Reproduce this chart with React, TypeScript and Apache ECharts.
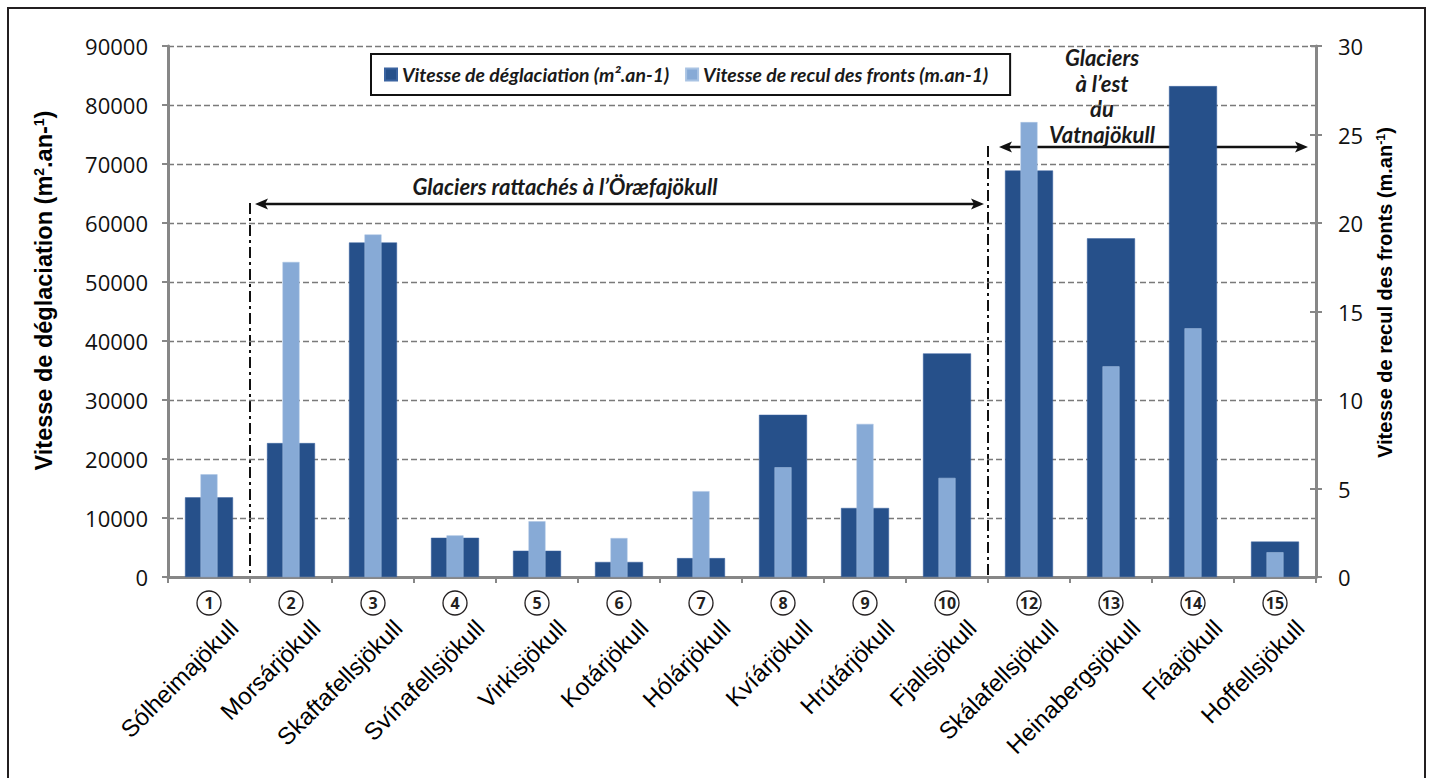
import React, { useEffect, useRef } from "react";
import * as echarts from "echarts";

// ---- data ----
const glacierNames = [
  "Sólheimajökull",
  "Morsárjökull",
  "Skaftafellsjökull",
  "Svínafellsjökull",
  "Virkisjökull",
  "Kotárjökull",
  "Hólárjökull",
  "Kvíárjökull",
  "Hrútárjökull",
  "Fjallsjökull",
  "Skálafellsjökull",
  "Heinabergsjökull",
  "Fláajökull",
  "Hoffellsjökull",
];
const glacierNumbers = ["1", "2", "3", "4", "5", "6", "7", "8", "9", "10", "12", "13", "14", "15"];
const deglaciationRate = [13500, 22700, 56700, 6650, 4450, 2550, 3200, 27500, 11700, 37900, 68900, 57400, 83200, 6000];
const frontRetreatRate = [5.8, 17.8, 19.35, 2.35, 3.15, 2.2, 4.85, 6.2, 8.65, 5.6, 25.7, 11.9, 14.05, 1.4];
const leftTicks = { min: 0, max: 90000, interval: 10000 };
const rightTicks = { min: 0, max: 30, interval: 5 };
const seriesNames = ["Vitesse de déglaciation (m².an-1)", "Vitesse de recul des fronts (m.an-1)"];

// ---- layout ----
const W = 1433;
const H = 778;
const G = { left: 168, right: 117, top: 46, bottom: 201 };
const NAME_SHIFT = 25;
const DARK = "#26508A";
const LIGHT = "#87AAD6";
const AXIS_GRAY = "#878787";

export default function App() {
  const ref = useRef<HTMLDivElement>(null);
  useEffect(() => {
    if (!ref.current) return;
    const chart = echarts.init(ref.current, null, { renderer: "svg" });
    const plotW = W - G.left - G.right;
    const catW = plotW / glacierNames.length;
    const y0 = H - G.bottom;
    const sep1 = G.left + catW * 1;
    const sep2 = G.left + catW * 10;

    const arrow = (x1: number, x2: number, y: number) => {
      const L = 13, hw = 5.5;
      return [
        { type: "line", shape: { x1: x1 + 6, y1: y, x2: x2 - 6, y2: y }, style: { stroke: "#111", lineWidth: 2.5 } },
        { type: "polygon", shape: { points: [[x1, y], [x1 + L, y - hw], [x1 + L - 3, y], [x1 + L, y + hw]] }, style: { fill: "#111" } },
        { type: "polygon", shape: { points: [[x2, y], [x2 - L, y - hw], [x2 - L + 3, y], [x2 - L, y + hw]] }, style: { fill: "#111" } },
      ];
    };

    const annFont = { fontFamily: "Lato", fontStyle: "italic", fontWeight: "bold", fontSize: 22, fill: "#1a1a1a" };

    chart.setOption({
      animation: false,
      backgroundColor: "#fff",
      grid: [
        { left: G.left, right: G.right, top: G.top, bottom: G.bottom },
        { left: G.left + NAME_SHIFT, right: G.right - NAME_SHIFT, top: G.top, bottom: G.bottom },
      ],
      legend: {
        data: seriesNames,
        left: 371,
        top: 54,
        padding: [11, 22, 11, 13],
        itemGap: 16,
        itemWidth: 12,
        itemHeight: 12,
        borderColor: "#111",
        borderWidth: 2,
        icon: "rect",
        textStyle: { fontFamily: "Lato", fontStyle: "italic", fontWeight: "bold", fontSize: 19.4, color: "#1a1a1a" },
      },
      xAxis: [
        {
          type: "category",
          gridIndex: 0,
          data: glacierNames,
          axisLine: { lineStyle: { color: AXIS_GRAY, width: 3 } },
          axisTick: { show: true, length: 6, lineStyle: { color: AXIS_GRAY, width: 2 } },
          axisLabel: {
            interval: 0,
            margin: 14,
            formatter: (_v: string, i: number) => `{c|${glacierNumbers[i]}}`,
            rich: {
              c: {
                width: 24,
                height: 24,
                lineHeight: 24,
                borderRadius: 13,
                borderWidth: 1.3,
                borderColor: "#231f20",
                align: "center",
                fontFamily: "Open Sans",
                fontWeight: "bold",
                fontSize: 16,
                color: "#231f20",
              },
            },
          },
        },
        { type: "category", gridIndex: 0, data: glacierNames, show: false },
        {
          type: "category",
          gridIndex: 1,
          data: glacierNames,
          axisLine: { show: false },
          axisTick: { show: false },
          axisLabel: {
            interval: 0,
            rotate: 45,
            margin: 47,
            fontFamily: "Liberation Sans",
            fontSize: 24,
            color: "#000",
          },
        },
      ],
      yAxis: [
        {
          type: "value",
          gridIndex: 0,
          ...leftTicks,
          name: "{t|Vitesse de déglaciation (m}{s|2}{t|.an-}{s|1}{t|)}",
          nameLocation: "middle",
          nameGap: 112,
          nameTextStyle: {
            padding: [0, 0, 0, 42],
            rich: {
              t: { fontFamily: "Liberation Sans", fontWeight: "bold", fontSize: 23.5, color: "#000" },
              s: { fontFamily: "Liberation Sans", fontWeight: "bold", fontSize: 14, color: "#000", verticalAlign: "top", padding: [0, 0, 9, 0] },
            },
          },
          axisLine: { show: true, lineStyle: { color: AXIS_GRAY, width: 3 } },
          axisTick: { show: true, length: 6, lineStyle: { color: AXIS_GRAY, width: 2 } },
          axisLabel: { margin: 20, fontFamily: "Open Sans", fontSize: 22, color: "#111", formatter: (v: number) => String(v) },
          splitLine: { show: true, lineStyle: { color: "#7a7a7a", type: [6, 3], width: 1.4 } },
        },
        {
          type: "value",
          gridIndex: 0,
          position: "right",
          ...rightTicks,
          name: "{t|Vitesse de recul des fronts (m.an}{s|-1}{t|)}",
          nameLocation: "middle",
          nameGap: 58,
          nameTextStyle: {
            padding: [0, 0, 0, 38],
            rich: {
              t: { fontFamily: "Liberation Sans", fontWeight: "bold", fontSize: 20, color: "#000" },
              s: { fontFamily: "Liberation Sans", fontWeight: "bold", fontSize: 12.5, color: "#000", verticalAlign: "top", padding: [0, 0, 8, 0] },
            },
          },
          axisLine: { show: true, lineStyle: { color: AXIS_GRAY, width: 3 } },
          axisTick: { show: true, length: 6, lineStyle: { color: AXIS_GRAY, width: 2 } },
          axisLabel: { margin: 22, fontFamily: "Open Sans", fontSize: 22, color: "#111" },
          splitLine: { show: false },
        },
        {
          type: "value",
          gridIndex: 0,
          position: "right",
          ...rightTicks,
          axisLine: { show: false },
          axisLabel: { show: false },
          axisTick: { show: true, inside: true, length: 6, lineStyle: { color: AXIS_GRAY, width: 2 } },
          splitLine: { show: false },
        },
        { type: "value", gridIndex: 1, show: false, ...rightTicks },
      ],
      series: [
        {
          name: seriesNames[0],
          type: "bar",
          xAxisIndex: 0,
          yAxisIndex: 0,
          data: deglaciationRate,
          barWidth: 48,
          itemStyle: { color: DARK, borderColor: "#3a63a0", borderWidth: 0.5 },
        },
        {
          name: seriesNames[1],
          type: "bar",
          xAxisIndex: 1,
          yAxisIndex: 1,
          data: frontRetreatRate,
          barWidth: 17,
          itemStyle: { color: LIGHT, borderColor: "#a9c3e3", borderWidth: 0.5 },
        },
      ],
      graphic: [
        { type: "rect", shape: { x: 8, y: 8, width: 1417, height: 800 }, style: { fill: "none", stroke: "#231f20", lineWidth: 2 }, silent: true },
        { type: "line", shape: { x1: sep1, y1: 203, x2: sep1, y2: y0 }, style: { stroke: "#111", lineWidth: 2, lineDash: [11, 4, 3, 4] } },
        { type: "line", shape: { x1: sep2, y1: 146, x2: sep2, y2: y0 }, style: { stroke: "#111", lineWidth: 2, lineDash: [11, 4, 3, 4] } },
        ...arrow(sep1 + 5, sep2 - 4, 204),
        ...arrow(sep2 + 11, W - G.right - 8, 147),
        {
          type: "text",
          x: 565,
          y: 186,
          style: { ...annFont, text: "Glaciers rattachés à l’Öræfajökull", textAlign: "center", textVerticalAlign: "middle" },
        },
        {
          type: "text",
          x: 1102,
          y: 45,
          style: { ...annFont, text: "Glaciers\nà l’est\ndu\nVatnajökull", textAlign: "center", lineHeight: 25.5 },
        },
      ],
    });
    return () => chart.dispose();
  }, []);
  return (
    <div
      ref={ref}
      style={{ position: "fixed", left: 0, top: 0, width: W, height: H, background: "#fff" }}
    />
  );
}
